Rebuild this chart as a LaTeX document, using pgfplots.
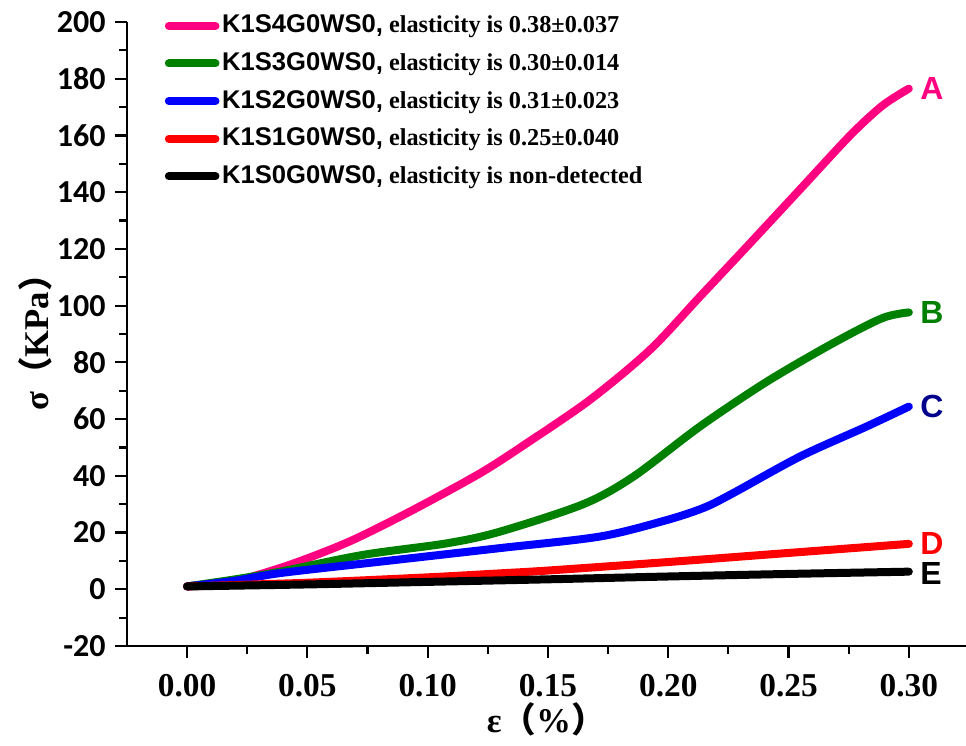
\documentclass[border=0pt]{standalone}
\usepackage{fontspec}
\setmainfont{Liberation Serif}
\newfontfamily\arial{Liberation Sans}
\newfontfamily\calibri{Carlito}
\newfontfamily\cjk{Noto Sans CJK SC}
\usepackage{pgfplots}
\pgfplotsset{compat=1.18}

\definecolor{cA}{RGB}{255,0,128}
\definecolor{cB}{RGB}{0,128,0}
\definecolor{cC}{RGB}{0,0,255}
\definecolor{cD}{RGB}{255,0,0}
\definecolor{cE}{RGB}{0,0,0}
\definecolor{lblC}{RGB}{0,0,140}

\newcommand\ent[2]{{\arial\fontsize{9.6}{9.6}\selectfont #1,} #2}

\begin{document}
\begin{tikzpicture}
\useasboundingbox (0,0) rectangle (362.25pt,279.75pt);
\begin{axis}[
  at={(47.6pt,37.5pt)}, anchor=south west,
  scale only axis,
  width=314.6pt, height=234pt,
  xmin=-0.025, xmax=0.3237,
  ymin=-20, ymax=200,
  axis lines*=left,
  axis line style={-, line width=0.8pt},
  tick align=outside,
  major tick length=4.5pt, minor tick length=3pt,
  every tick/.style={black, line width=0.8pt},
  xtick={0,0.05,0.10,0.15,0.20,0.25,0.30},
  ytick={-20,0,20,40,60,80,100,120,140,160,180,200},
  minor x tick num=1, minor y tick num=1,
  /pgf/number format/assume math mode=true,
  x tick label style={font=\bfseries\fontsize{12.5}{12.5}\selectfont, yshift=-2.5pt,
    /pgf/number format/fixed, /pgf/number format/fixed zerofill, /pgf/number format/precision=2},
  y tick label style={font=\calibri\bfseries\fontsize{12}{12}\selectfont},
  xlabel={\bfseries ε{\cjk （}\%{\cjk ）}},
  ylabel={\bfseries σ{\cjk （}KPa{\cjk ）}},
  label style={font=\fontsize{13}{13}\selectfont},
  xlabel style={at={(axis description cs:0.5,0)}, anchor=center, yshift=-27.5pt},
  ylabel style={at={(axis description cs:-0.1097,0.5)}, anchor=center},
  legend cell align=left,
  legend style={at={(rel axis cs:0.035,1.025)}, anchor=north west, draw=none, fill=none,
    font=\bfseries\fontsize{9.1}{9.1}\selectfont, row sep=3.9pt,
    nodes={inner sep=1pt}},
  legend image code/.code={\draw[#1, line width=3pt, line cap=round] (0pt,0pt) -- (17.5pt,0pt);},
  clip=false,
  every axis plot/.append style={line width=3pt, line cap=round, line join=round, smooth},
]
\addplot[cA] coordinates {
 (0,1) (0.02,3) (0.0387,7.5) (0.055,12.5) (0.0705,18) (0.094,28) (0.1218,40.9)
 (0.1412,51.5) (0.1675,66.8) (0.1924,84.4) (0.2132,103.2) (0.234,122)
 (0.2548,141) (0.2756,160) (0.289,170.5) (0.300,176.5)};
\addlegendentry{\ent{K1S4G0WS0}{elasticity is 0.38±0.037}}
\addplot[cB] coordinates {
 (0,1) (0.02,3.5) (0.0387,6.2) (0.073,12.1) (0.108,16.2) (0.130,20.3) (0.1647,30)
 (0.1855,39.7) (0.2132,57.4) (0.241,73.2) (0.2686,86.8) (0.289,95.6) (0.300,97.6)};
\addlegendentry{\ent{K1S3G0WS0}{elasticity is 0.30±0.014}}
\addplot[cC] coordinates {
 (0,1) (0.02,3) (0.0387,5.7) (0.080,9.7) (0.130,14.5) (0.1717,18.6) (0.1994,24.4)
 (0.215,28.8) (0.227,33.9) (0.2548,46.8) (0.2825,57.4) (0.300,64.4)};
\addlegendentry{\ent{K1S2G0WS0}{elasticity is 0.31±0.023}}
\addplot[cD] coordinates {
 (0,1) (0.05,2.3) (0.10,4.2) (0.13,5.6) (0.15,6.6) (0.20,9.6) (0.25,12.8) (0.30,16)};
\addlegendentry{\ent{K1S1G0WS0}{elasticity is 0.25±0.040}}
\addplot[cE] coordinates {
 (0,1) (0.05,1.7) (0.10,2.6) (0.15,3.5) (0.20,4.5) (0.25,5.4) (0.30,6.2)};
\addlegendentry{\ent{K1S0G0WS0}{elasticity is non-detected}}

\begin{scope}[every node/.style={anchor=west, inner sep=1pt, font=\arial\bfseries\fontsize{12}{12}\selectfont}]
\node[text=cA] at (axis cs:0.3035,176.5) {A};
\node[text=cB] at (axis cs:0.3035,97.6) {B};
\node[text=lblC] at (axis cs:0.3035,64.4) {C};
\node[text=cD] at (axis cs:0.3035,16) {D};
\node[text=cE] at (axis cs:0.3035,5.5) {E};
\end{scope}
\end{axis}
\end{tikzpicture}
\end{document}
